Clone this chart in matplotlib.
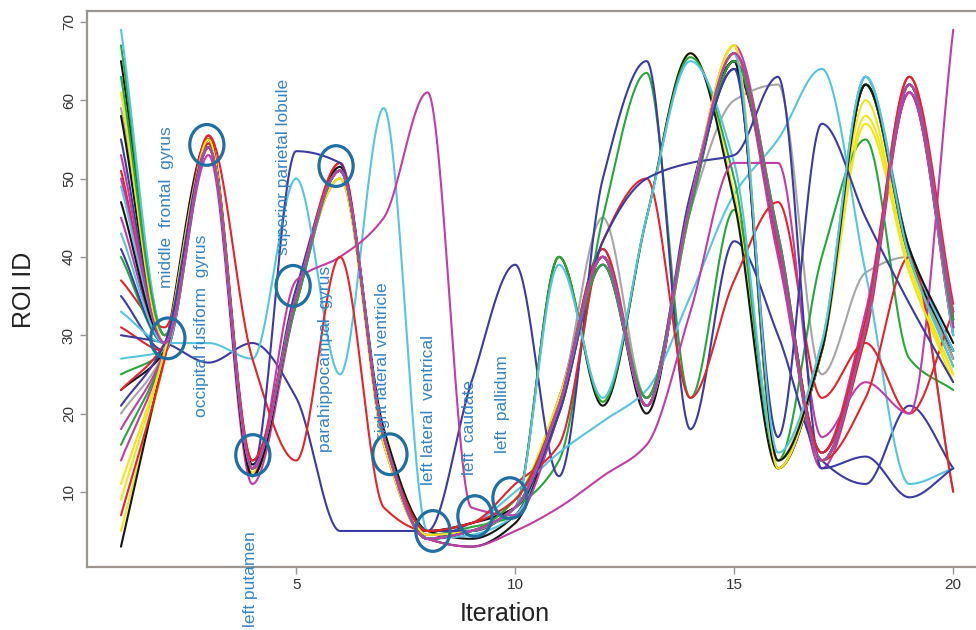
import numpy as np
import matplotlib
matplotlib.use("Agg")
import matplotlib.pyplot as plt
from matplotlib.patches import Ellipse

plt.rcParams['font.family'] = ['Liberation Sans', 'DejaVu Sans']

iterations = list(range(1, 21))

black_paths = [
    [65, 30, 55, 13.5, 35, 51, 18, 5, 4, 7, 21, 40, 21, 47, 65, 13, 28, 62, 41, 27],
    [3, 28, 55, 13, 35, 51.5, 17, 4, 3, 6, 21, 40, 20, 47, 64, 42, 15, 31, 62, 31],
    [58, 29, 55, 13, 35, 51, 17, 4, 5, 8, 40, 21, 45, 66, 47, 13, 28, 62, 40, 28],
    [23, 28, 54, 13, 35, 51, 17, 5, 6, 8, 21, 40, 21, 47, 65, 42, 14, 31, 62, 32],
    [47, 29, 54, 12, 35, 51, 17, 4, 5, 8, 21, 40, 21, 47, 65, 14, 28, 62, 41, 29],
]
red_paths = [
    [51, 29, 55.5, 14, 34, 52, 16, 4, 5, 8, 22, 40, 21, 46, 65, 42, 14, 31, 62, 32],
    [31, 28, 54.5, 13, 35, 52, 17, 4, 5, 8, 21, 41, 21, 47, 66, 41, 14, 30, 61, 33],
    [37, 31, 55.5, 27, 14, 40, 8, 5, 6, 11, 16, 42, 50, 22, 37, 47, 22, 29, 20, 33],
    [7, 27, 54, 12, 35, 51, 17, 4, 5, 8, 21, 40, 21, 47, 65, 42, 14, 22, 40, 10],
    [23, 29, 54, 14, 35, 51, 17, 5, 6, 9, 21, 40, 21, 47, 66, 42, 15, 32, 63, 34],
]
green_paths = [
    [67, 30, 54, 12, 35, 50, 17, 4.5, 5.5, 7, 20, 39, 22, 47, 66, 14, 28, 63, 40, 28],
    [25, 28, 54, 12, 35, 51, 17, 5, 5, 8, 14, 45, 63.5, 22, 46, 14, 40, 55, 27, 23],
    [40, 29, 54, 13, 35, 51, 17, 4, 5, 8, 40, 21.5, 45, 65.5, 50, 14, 28, 62, 40, 26],
    [16, 28, 54, 13, 34, 51, 17, 4, 5, 9, 21, 40, 22, 47, 66, 43, 14, 31, 62, 31],
    [63, 30, 54, 13, 35, 51, 17, 4, 5, 8, 21, 39, 21, 46, 65, 42, 14, 31, 62, 32],
]
blue_paths = [
    [35, 28, 54, 13, 36, 51, 17, 4, 6, 8, 21, 39, 21, 48, 65, 43, 14, 31, 61, 30],
    [30, 29, 26.5, 29, 22, 5, 5, 5, 24, 39, 12, 50, 65, 18, 42, 30, 14, 11, 21, 13],
    [55, 29, 54, 13, 53.5, 52, 17, 5, 5, 8, 21, 40, 21, 47, 65, 42, 14, 31, 62, 31],
    [41, 29, 54, 13, 35, 51, 17, 4, 5, 8, 20, 42, 50, 52, 53, 63, 13, 14.5, 9.3, 13],
    [21, 29, 54, 13, 35, 51, 17, 4, 5, 8, 21, 40, 21, 47, 64, 17, 57, 45, 34, 24],
]
cyan_paths = [
    [69, 30, 54.5, 13, 35, 51, 17, 4, 4.5, 7, 20, 40, 21, 47, 66, 14, 29, 63, 40, 28],
    [33, 29, 29, 27, 50, 25, 59, 5, 6, 10, 15, 19, 23, 35, 48, 55, 64, 38, 11, 13],
    [27, 28, 54, 13, 35, 51, 17, 4, 5, 8, 39, 22, 45, 65, 52, 14, 29, 63, 41, 28],
    [49, 29, 54, 13, 35, 51, 17, 4, 5, 8, 21, 40, 21, 47, 66, 42, 14, 31, 62, 30],
    [43, 29, 54, 13, 35, 51, 17, 4, 5, 8, 21, 40, 21, 47, 66, 15, 29, 63, 40, 26],
]
magenta_paths = [
    [45, 29, 53, 11, 34, 51, 17, 4.5, 5, 8, 21, 41, 22, 47, 67, 42, 13, 31, 63, 31],
    [14, 28, 54, 12, 37, 40, 45, 61, 8, 7, 20, 39, 22, 47, 65, 40, 15, 33, 61, 30],
    [50, 29, 54, 13, 35, 51, 17, 4, 3, 5, 8, 12, 16, 33, 52, 52, 17, 24, 20, 69],
    [18, 28, 54, 13, 35, 51, 17, 4, 5, 8, 21, 40, 21, 47, 66, 42, 15, 31, 61, 31],
    [53, 29, 54, 13, 35, 51, 17, 4, 5, 8, 21, 40, 21, 47, 66, 42, 14, 31, 62, 33],
]
yellow_paths = [
    [5, 27, 54, 12.5, 35, 50, 16, 4, 5, 9, 22, 40, 22, 46, 67, 13, 29, 58, 39, 25],
    [9, 28, 54, 13, 35, 51, 17, 4, 5, 8, 40, 21.5, 45, 66, 48, 13, 29, 62, 39, 25],
    [61, 29, 55, 13, 35, 51, 17, 4.5, 5, 8, 21, 40, 21, 47, 67, 13, 28, 57, 38, 24],
    [11, 28, 54, 13, 35, 51, 17, 4, 5, 8, 21, 40, 21, 47, 67, 14, 29, 60, 38, 25],
]
gray_paths = [
    [20, 28, 54, 13, 35, 51, 17, 5, 5, 8, 21, 45, 22, 46, 60, 62, 25, 38, 40, 10],
    [59, 30, 54, 13, 35, 51, 17, 5, 5, 8, 21, 40, 21, 47, 66, 14, 28, 62, 40, 27],
]

roi_labels = ["middle  frontal  gyrus", "occipital fusiform  gyrus", "superior parietal lobule",
              "parahippocampal  gyrus", "right lateral ventricle", "left lateral  ventrical",
              "left  caudate", "left  pallidum", "left putamen"]
label_x = [2.03, 2.83, 4.70, 5.68, 6.98, 8.01, 8.95, 9.72, 3.95]
label_y = [36.0, 19.5, 40.2, 15.1, 16.9, 10.9, 12.1, 14.9, -7.2]

circle_x = [2.07, 2.96, 4.01, 4.93, 5.91, 7.14, 8.12, 9.08, 9.88]
circle_y = [29.6, 54.3, 14.7, 36.3, 51.6, 14.8, 5.0, 6.9, 9.2]

palette = {
    'black': '#151515', 'red': '#e8222b', 'green': '#25a83a', 'blue': '#3b3ba2',
    'cyan': '#55c6df', 'magenta': '#c23ca8', 'yellow': '#f4e41a', 'gray': '#a6a6a6',
}
groups = [('black', black_paths), ('red', red_paths), ('green', green_paths),
          ('blue', blue_paths), ('cyan', cyan_paths), ('magenta', magenta_paths),
          ('yellow', yellow_paths), ('gray', gray_paths)]


def pchip(x, y, xs):
    x = np.asarray(x, float)
    y = np.asarray(y, float)
    h = np.diff(x)
    d = np.diff(y) / h
    n = len(x)
    m = np.zeros(n)
    for k in range(1, n - 1):
        if d[k - 1] * d[k] <= 0:
            m[k] = 0.0
        else:
            w1 = 2 * h[k] + h[k - 1]
            w2 = h[k] + 2 * h[k - 1]
            m[k] = (w1 + w2) / (w1 / d[k - 1] + w2 / d[k])
    m[0] = d[0]
    m[-1] = d[-1]
    idx = np.clip(np.searchsorted(x, xs) - 1, 0, n - 2)
    hh = h[idx]
    t = (xs - x[idx]) / hh
    h00 = 2 * t ** 3 - 3 * t ** 2 + 1
    h10 = t ** 3 - 2 * t ** 2 + t
    h01 = -2 * t ** 3 + 3 * t ** 2
    h11 = t ** 3 - t ** 2
    return h00 * y[idx] + h10 * hh * m[idx] + h01 * y[idx + 1] + h11 * hh * m[idx + 1]


fig = plt.figure(figsize=(9.76, 6.30), dpi=100)
ax = fig.add_axes([87 / 976, 63 / 630, 1 - 87 / 976, (567 - 11) / 630])

xs = np.linspace(1, 20, 1200)
maxlen = max(len(g[1]) for g in groups)
for i in range(maxlen):
    for name, paths in groups:
        if i < len(paths):
            ys = pchip(iterations, paths[i], xs)
            ax.plot(xs, ys, color=palette[name], lw=1.5, solid_capstyle='round', zorder=2)

circ_color = '#1f6fa3'
for cx, cy in zip(circle_x, circle_y):
    ax.add_patch(Ellipse((cx, cy), 0.78, 5.2, fill=False, edgecolor=circ_color, lw=2.3, zorder=4))

text_color = '#3583c4'
for t, lx, ly in zip(roi_labels, label_x, label_y):
    ax.text(lx, ly, t, rotation=90, ha='center', va='bottom', fontsize=12.5,
            color=text_color, clip_on=False, zorder=5)

ax.set_xlim(0.224, 20.52)
ax.set_ylim(0.4, 71.4)
ax.set_xticks([5, 10, 15, 20])
ax.set_yticks([10, 20, 30, 40, 50, 60, 70])
ax.set_yticklabels(['10', '20', '30', '40', '50', '60', '70'], rotation=90, va='center')
frame = '#9c948e'
for side in ['left', 'bottom', 'top']:
    ax.spines[side].set_color(frame)
    ax.spines[side].set_linewidth(1.6)
ax.spines['right'].set_visible(False)
ax.tick_params(direction='out', length=5, width=1.0, color=frame, labelsize=11,
               labelcolor='#333333', pad=3)

fig.text(505 / 976, 1 - 614 / 630, 'Iteration', ha='center', va='center', fontsize=18, color='#222222')
fig.text(24 / 976, 1 - 290 / 630, 'ROI ID', ha='center', va='center', rotation=90, fontsize=18, color='#222222')

fig.savefig('out.png', dpi=100)
